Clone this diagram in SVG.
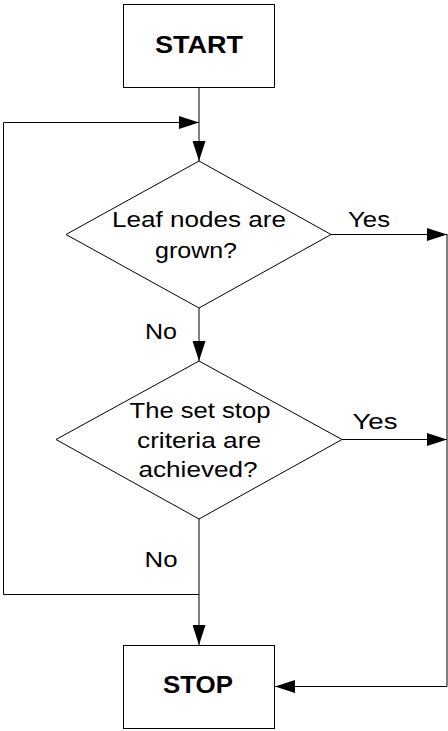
<svg xmlns="http://www.w3.org/2000/svg" width="448" height="731" viewBox="0 0 448 731">
<defs>
<style>
.box{fill:#fff;stroke:#000;stroke-width:1}
.line{fill:none;stroke:#000;stroke-width:1}
.t{font-family:"Liberation Sans",Arial,sans-serif;font-size:22px;fill:#000;text-anchor:middle}
.b{font-family:"Liberation Sans",Arial,sans-serif;font-size:24px;font-weight:bold;fill:#000;text-anchor:middle}
</style>
<marker id="arr" viewBox="0 0 20 13" refX="20" refY="6.5" markerWidth="20" markerHeight="13" markerUnits="userSpaceOnUse" orient="auto">
<path d="M0,0 L20,6.5 L0,13 Z" fill="#000"/>
</marker>
</defs>
<rect width="448" height="731" fill="#fff"/>
<g id="connectors">
<path class="line" d="M199,87 V161" marker-end="url(#arr)"/>
<path class="line" d="M199,308 V361" marker-end="url(#arr)"/>
<path class="line" d="M199,519 V645" marker-end="url(#arr)"/>
<path class="line" d="M199,594.5 H3.5 V122.5 H199" marker-end="url(#arr)"/>
<path class="line" d="M331,234.5 H447" marker-end="url(#arr)"/>
<path class="line" d="M331,439.5 H447" marker-end="url(#arr)"/>
<path class="line" d="M447,234 V686.5 H275" marker-end="url(#arr)"/>
</g>
<g id="start">
<rect class="box" x="123.5" y="4.5" width="151" height="83"/>
<text class="b" x="199" y="53" textLength="88" lengthAdjust="spacingAndGlyphs">START</text>
</g>
<g id="decision1">
<polygon class="box" points="199,161 331,234.5 199,308 66,234.5"/>
<text class="t" x="199" y="227" textLength="174" lengthAdjust="spacingAndGlyphs">Leaf nodes are</text>
<text class="t" x="196" y="258" textLength="82" lengthAdjust="spacingAndGlyphs">grown?</text>
</g>
<g id="decision2">
<polygon class="box" points="199,361 342,439.5 199,519 56,439.5"/>
<text class="t" x="200" y="418" textLength="141" lengthAdjust="spacingAndGlyphs">The set stop</text>
<text class="t" x="199" y="448" textLength="124" lengthAdjust="spacingAndGlyphs">criteria are</text>
<text class="t" x="198" y="477" textLength="119" lengthAdjust="spacingAndGlyphs">achieved?</text>
</g>
<g id="stop">
<rect class="box" x="123.5" y="645.5" width="151" height="83"/>
<text class="b" x="198" y="693" textLength="70" lengthAdjust="spacingAndGlyphs">STOP</text>
</g>
<g id="labels">
<text class="t" x="369" y="227" textLength="42" lengthAdjust="spacingAndGlyphs">Yes</text>
<text class="t" x="375" y="429" textLength="45" lengthAdjust="spacingAndGlyphs">Yes</text>
<text class="t" x="161" y="339" textLength="32" lengthAdjust="spacingAndGlyphs">No</text>
<text class="t" x="161" y="567" textLength="33" lengthAdjust="spacingAndGlyphs">No</text>
</g>
</svg>
